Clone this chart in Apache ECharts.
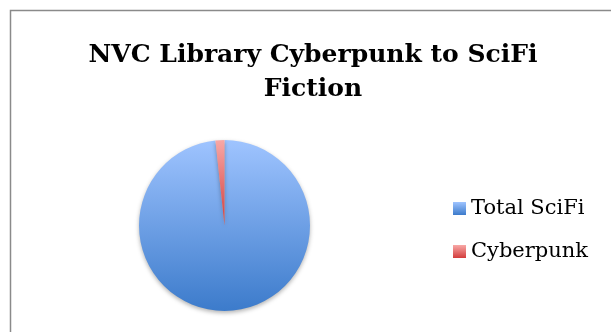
<!DOCTYPE html>
<html><head><meta charset="utf-8">
<script src="https://cdn.jsdelivr.net/npm/echarts@6/dist/echarts.min.js"></script>
<style>html,body{margin:0;padding:0;background:#fff}#c{width:611px;height:332px}</style>
</head><body><div id="c"></div>
<script>
const titleText = 'NVC Library Cyberpunk to SciFi\nFiction';
const categories = ['Total SciFi', 'Cyberpunk'];
const values = [580, 10];

const gradients = [
  {type:'linear', x:0, y:0, x2:0, y2:1, colorStops:[{offset:0,color:'#9fc4ff'},{offset:1,color:'#3c7bcb'}]},
  {type:'linear', x:0, y:0, x2:0, y2:1, colorStops:[{offset:0,color:'#f8a8a6'},{offset:1,color:'#d33c3c'}]}
];
const FONT = '"DejaVu Serif", "Liberation Serif", serif';
const chart = echarts.init(document.getElementById('c'), null, {renderer:'canvas'});
chart.setOption({
  animation:false,
  backgroundColor:'#fff',
  graphic:[{type:'rect', shape:{x:10.5, y:10.5, width:700, height:400}, style:{fill:'none', stroke:'#8a8a8a', lineWidth:1.5}, silent:true}],
  title:{text:titleText, left:308, top:33, textAlign:'center',
    textStyle:{fontFamily:FONT, fontWeight:'bold', fontSize:25, color:'#000', lineHeight:34}},
  legend:{orient:'vertical', left:448, top:193, itemWidth:13, itemHeight:13, itemGap:22,
    icon:'rect', data:categories,
    itemStyle:{borderWidth:0, shadowBlur:0, shadowOffsetY:0},
    textStyle:{fontFamily:FONT, fontSize:21, color:'#000', padding:[0,0,0,0]}},
  series:[{type:'pie', center:[224.5,225.5], radius:[0,85.5], startAngle:90, clockwise:true,
    label:{show:false}, labelLine:{show:false},
    itemStyle:{borderWidth:0, shadowBlur:4, shadowColor:'rgba(0,0,0,0.3)', shadowOffsetY:2},
    emphasis:{disabled:true},
    data:categories.map((n,i)=>({name:n, value:values[i], itemStyle:{color:gradients[i]}}))}]
});
</script></body></html>
